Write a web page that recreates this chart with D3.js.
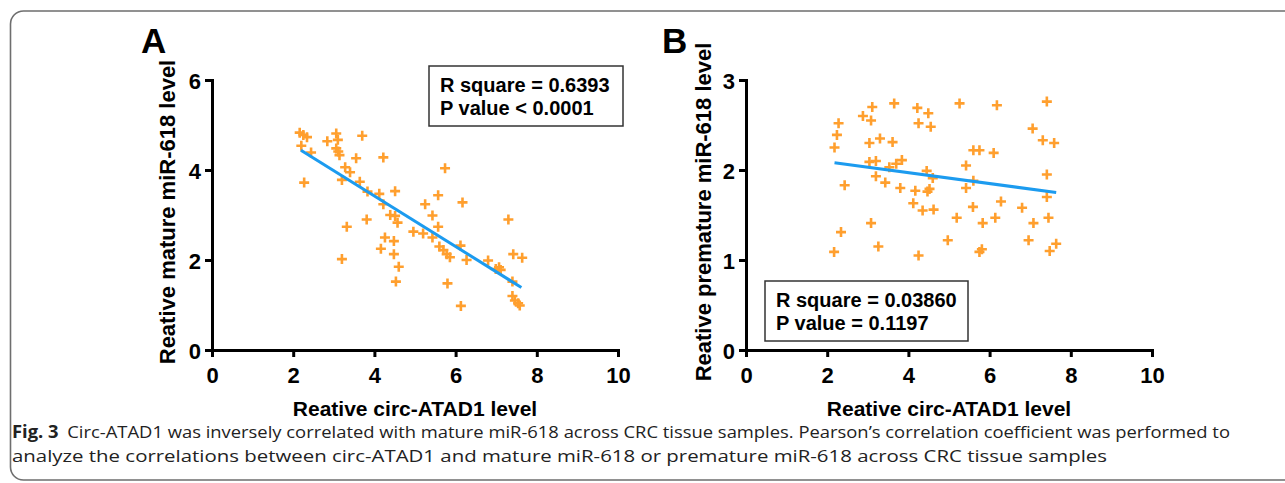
<!DOCTYPE html>
<html>
<head>
<meta charset="utf-8">
<script src="https://cdn.jsdelivr.net/npm/d3@7"></script>
<style>
  body { margin: 0; background: #fff; }
  svg { display: block; }
</style>
</head>
<body>
<div class="chart-container"></div>
<script>
// data
const xTicks = [0, 2, 4, 6, 8, 10];
const yTicksA = [0, 2, 4, 6];
const yTicksB = [0, 1, 2, 3];

// panel A: circ-ATAD1 vs mature miR-618
const circA = [2.16, 2.25, 2.34, 2.20, 2.44, 2.27, 2.84, 3.06, 3.10, 3.06, 3.11, 3.14, 3.70, 3.55, 3.28, 3.40,
  3.20, 3.64, 3.83, 4.12, 4.22, 4.22, 4.51, 3.81, 3.32, 3.20, 4.39, 4.51, 4.57, 4.26, 4.48, 4.16,
  4.48, 4.60, 4.53, 4.96, 5.20, 5.25, 5.43, 5.43, 5.57, 5.57, 5.74, 5.60, 5.70, 5.78, 5.86, 5.80,
  6.12, 6.17, 6.27, 6.13, 6.80, 6.99, 7.07, 7.11, 7.30, 7.42, 7.64, 7.40, 7.40, 7.46, 7.54, 7.58];
const matureA = [4.83, 4.78, 4.73, 4.54, 4.39, 3.72, 4.64, 4.81, 4.67, 4.48, 4.41, 4.33, 4.76, 4.26, 4.06, 3.95,
  3.78, 3.74, 3.52, 3.47, 3.24, 4.28, 3.53, 2.90, 2.74, 2.02, 3.00, 2.98, 2.83, 2.50, 2.42, 2.25,
  2.13, 1.85, 1.52, 2.63, 2.59, 3.24, 2.99, 2.50, 3.44, 2.74, 4.04, 2.30, 2.22, 2.13, 2.06, 1.48,
  2.32, 3.28, 2.00, 0.98, 1.99, 1.80, 1.84, 1.78, 2.90, 2.13, 2.05, 1.52, 1.20, 1.10, 1.04, 0.99];
const fitAx = [2.19, 7.62];
const fitAy = [4.44, 1.39];

// panel B: circ-ATAD1 vs premature miR-618
const circB = [2.17, 2.34, 2.18, 2.24, 2.28, 2.43, 2.88, 3.11, 3.08, 3.04, 3.30, 3.04, 3.20, 3.20, 3.43, 3.08,
  3.26, 3.65, 3.61, 3.53, 3.70, 3.84, 3.80, 4.22, 4.49, 4.25, 4.55, 4.45, 4.60, 4.17, 4.47, 4.52,
  4.12, 4.35, 4.62, 4.25, 5.26, 5.60, 5.75, 5.42, 5.60, 5.42, 5.59, 5.19, 4.97, 5.83, 5.75, 5.81,
  6.18, 6.10, 6.28, 6.14, 6.80, 6.96, 7.08, 7.06, 7.31, 7.59, 7.41, 7.41, 7.41, 7.45, 7.48, 7.64];
const prematureB = [1.09, 1.31, 2.25, 2.39, 2.52, 1.83, 2.60, 2.70, 2.55, 2.30, 2.35, 2.09, 2.10, 1.93, 1.86, 1.41,
  1.15, 2.74, 2.31, 2.03, 2.07, 2.11, 1.80, 2.69, 2.63, 2.52, 2.48, 1.99, 1.91, 1.77, 1.76, 1.79,
  1.63, 1.55, 1.56, 1.05, 2.74, 2.22, 2.22, 2.05, 1.88, 1.80, 1.59, 1.47, 1.22, 1.41, 1.09, 1.12,
  2.72, 2.19, 1.65, 1.47, 1.58, 1.22, 1.41, 2.46, 2.33, 2.30, 2.76, 1.95, 1.70, 1.47, 1.10, 1.18];
const fitBx = [2.18, 7.64];
const fitBy = [2.08, 1.75];

const statsA = ['R square = 0.6393', 'P value < 0.0001'];
const statsB = ['R square = 0.03860', 'P value = 0.1197'];

const captionBold = 'Fig. 3';
const captionLine1 = 'Circ-ATAD1 was inversely correlated with mature miR-618 across CRC tissue samples. Pearson\u2019s correlation coefficient was performed to';
const captionLine2 = 'analyze the correlations between circ-ATAD1 and mature miR-618 or premature miR-618 across CRC tissue samples';

const W = 1285, H = 483;
const orange = '#ff9f2e', blue = '#1c9bef';
const chartFont = '"Liberation Sans", Arial, sans-serif';

const svg = d3.select('.chart-container')
    .append('svg')
    .attr('width', W)
    .attr('height', H)

// rounded frame, cut off on the right
svg.append('rect')
    .attr('x', 10.5).attr('y', 11)
    .attr('width', 1320).attr('height', 469)
    .attr('rx', 13)
    .attr('fill', 'none')
    .attr('stroke', '#6e6e6e')
    .attr('stroke-width', 1.6)

function panel(p) {
    const x = d3.scaleLinear().domain([0, 10]).range([p.left, p.left + 406]);
    const y = d3.scaleLinear().domain([0, p.ymax]).range([350, 80]);
    const g = svg.append('g');

    const xAxis = d3.axisBottom(x).tickValues(xTicks).tickFormat(d3.format('d'))
        .tickSize(7).tickSizeOuter(0).tickPadding(10);
    const yAxis = d3.axisLeft(y).tickValues(p.yTicks).tickFormat(d3.format('d'))
        .tickSize(7).tickSizeOuter(0).tickPadding(4);

    g.append('g')
        .attr('transform', 'translate(0,350)')
        .call(xAxis)
        .call(a => a.select('.domain').attr('stroke-width', 3).attr('stroke-linecap', 'square'))
        .call(a => a.selectAll('.tick line').attr('stroke-width', 3))
        .call(a => a.selectAll('.tick text')
            .attr('font-family', chartFont).attr('font-weight', 'bold')
            .attr('font-size', 22).attr('fill', '#000'));

    g.append('g')
        .attr('transform', 'translate(' + p.left + ',0)')
        .call(yAxis)
        .call(a => a.select('.domain').attr('stroke-width', 3).attr('stroke-linecap', 'square'))
        .call(a => a.selectAll('.tick line').attr('stroke-width', 3))
        .call(a => a.selectAll('.tick text')
            .attr('font-family', chartFont).attr('font-weight', 'bold')
            .attr('font-size', 22).attr('fill', '#000').attr('dy', '0.38em'));

    // crosses
    const pts = d3.zip(p.xs, p.ys);
    g.append('g')
        .selectAll('path')
        .data(pts)
        .join('path')
        .attr('d', d => {
            const cx = x(d[0]), cy = y(d[1]), s = 5;
            return `M${cx - s},${cy}H${cx + s}M${cx},${cy - s}V${cy + s}`;
        })
        .attr('stroke', orange)
        .attr('stroke-width', 2.6)
        .attr('fill', 'none');

    // regression line
    const line = d3.line().x(d => x(d[0])).y(d => y(d[1]));
    g.append('path')
        .datum(d3.zip(p.fitX, p.fitY))
        .attr('d', line)
        .attr('stroke', blue)
        .attr('stroke-width', 3)
        .attr('fill', 'none');

    // stats box
    g.append('rect')
        .attr('x', p.box[0]).attr('y', p.box[1])
        .attr('width', p.box[2]).attr('height', p.box[3])
        .attr('fill', '#fff')
        .attr('stroke', '#333')
        .attr('stroke-width', 1.5);
    g.append('g').selectAll('text')
        .data(p.stats)
        .join('text')
        .attr('x', p.box[0] + 11)
        .attr('y', (d, i) => p.box[1] + 26 + i * 23)
        .attr('font-family', chartFont).attr('font-weight', 'bold')
        .attr('font-size', 20)
        .text(d => d);

    // axis titles
    g.append('text')
        .attr('transform', `translate(${p.ylabX},${p.ylabY}) rotate(-90)`)
        .attr('text-anchor', 'middle')
        .attr('font-family', chartFont).attr('font-weight', 'bold')
        .attr('font-size', 22)
        .text(p.ylab);
    g.append('text')
        .attr('x', p.left + 203)
        .attr('y', 416)
        .attr('text-anchor', 'middle')
        .attr('font-family', chartFont).attr('font-weight', 'bold')
        .attr('font-size', 21)
        .text('Reative circ-ATAD1 level');

    // panel letter
    g.append('text')
        .attr('x', p.letterX).attr('y', 53)
        .attr('font-family', chartFont).attr('font-weight', 'bold')
        .attr('font-size', 35)
        .text(p.letter);
}

panel({left: 212, ymax: 6, yTicks: yTicksA, xs: circA, ys: matureA, fitX: fitAx, fitY: fitAy,
    box: [429, 66, 194, 60], stats: statsA, ylab: 'Reative mature miR-618 level', ylabX: 175, ylabY: 212,
    letter: 'A', letterX: 141});
panel({left: 746, ymax: 3, yTicks: yTicksB, xs: circB, ys: prematureB, fitX: fitBx, fitY: fitBy,
    box: [765, 281, 203, 60], stats: statsB, ylab: 'Reative premature miR-618 level', ylabX: 711, ylabY: 212,
    letter: 'B', letterX: 662});

// caption
const cap = svg.append('g').attr('font-family', '"Open Sans", "Noto Sans", sans-serif').attr('font-size', 17).attr('fill', '#222');
const t1 = cap.append('text').attr('x', 12).attr('y', 438);
t1.append('tspan').attr('font-weight', 'bold').text(captionBold);
t1.append('tspan').attr('dx', 8).text(captionLine1);
t1.attr('textLength', 1218).attr('lengthAdjust', 'spacingAndGlyphs');
cap.append('text').attr('x', 12).attr('y', 462)
    .attr('textLength', 1095).attr('lengthAdjust', 'spacingAndGlyphs')
    .text(captionLine2);
</script>
</body>
</html>
